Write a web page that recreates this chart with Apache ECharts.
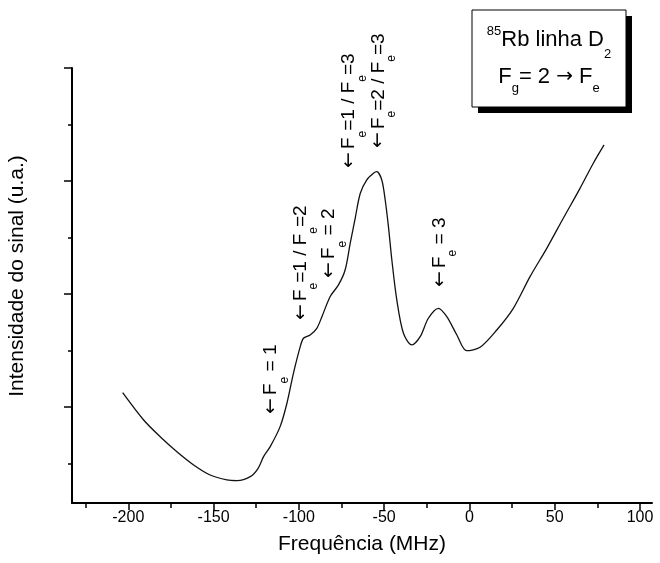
<!DOCTYPE html>
<html><head><meta charset="utf-8">
<script src="https://cdn.jsdelivr.net/npm/echarts@6/dist/echarts.min.js"></script>
<style>html,body{margin:0;padding:0;background:#fff}#c{width:660px;height:563px}</style>
</head><body><div id="c"></div>
<script>
// ---- data ----
const freq = [-203.3,-191.0,-181.3,-171.5,-161.7,-152.0,-142.2,-136.3,-128.5,-124.0,-120.7,-116.8,-111.0,-107.0,-103.2,-99.2,-97.3,-93.4,-89.5,-86.5,-81.7,-76.8,-72.9,-69.9,-67.0,-64.0,-60.2,-56.3,-54.3,-51.4,-49.4,-47.5,-45.5,-42.6,-38.7,-33.8,-28.9,-24.1,-18.2,-13.3,-7.4,-1.6,6.2,16.0,25.7,35.5,45.3,55.0,64.8,72.6,78.9];
const signal = [1.127,0.885,0.737,0.604,0.487,0.398,0.354,0.348,0.383,0.455,0.560,0.649,0.826,1.033,1.298,1.534,1.608,1.637,1.696,1.799,1.976,2.080,2.212,2.449,2.670,2.891,3.009,3.068,3.082,3.009,2.832,2.596,2.301,1.947,1.652,1.549,1.622,1.785,1.873,1.799,1.637,1.498,1.528,1.681,1.873,2.153,2.404,2.670,2.935,3.157,3.319];
const xMajorTicks = [-200,-150,-100,-50,0,50,100];
const xMinorTicks = [-225,-175,-125,-75,-25,25,75];
const yMajorTicks = [1,2,3,4];
const yMinorTicks = [0.5,1.5,2.5,3.5];
const annFreq = [-116.2,-98.7,-82.2,-70.5,-53.3,-17.2];
const annSignal = [0.938,1.770,2.142,3.115,3.292,2.062];
// arrow, then alternating normal / subscript parts
const annLabels = [
  ['F','e',' = 1'],
  ['F','e','=1 / F','e','=2'],
  ['F','e',' = 2'],
  ['F','e','=1 / F','e','=3'],
  ['F','e','=2 / F','e','=3'],
  ['F','e',' = 3']
];
const xTitle = 'Frequência (MHz)';
const yTitle = 'Intensidade do sinal (u.a.)';

const FONT = '"Liberation Sans", Arial, Helvetica, sans-serif';
const ARROW_FONT = '"DejaVu Sans", sans-serif';
const X_MIN = -233, X_MAX = 107, Y_MIN = 0.15, Y_MAX = 4;

const chart = echarts.init(document.getElementById('c'), null, {renderer: 'canvas'});

function baseX(extra) {
  return Object.assign({
    type: 'value', min: X_MIN, max: X_MAX, position: 'bottom', offset: 0,
    splitLine: {show: false}
  }, extra);
}
function baseY(extra) {
  return Object.assign({
    type: 'value', min: Y_MIN, max: Y_MAX, position: 'left', offset: 0,
    splitLine: {show: false}
  }, extra);
}

chart.setOption({
  animation: false,
  backgroundColor: '#fff',
  grid: {left: 72, right: 8, top: 68, bottom: 60, containLabel: false},
  xAxis: [
    baseX({
      axisLine: {show: true, onZero: false, lineStyle: {color: '#000', width: 2}},
      axisTick: {show: true, customValues: xMajorTicks, length: 7, lineStyle: {color: '#000', width: 1.5}},
      axisLabel: {show: true, customValues: xMajorTicks, color: '#000', fontSize: 16, fontFamily: FONT, margin: 7},
      name: xTitle, nameLocation: 'middle', nameGap: 31,
      nameTextStyle: {color: '#000', fontSize: 21, fontFamily: FONT}
    }),
    baseX({
      axisLine: {show: false, onZero: false},
      axisTick: {show: true, customValues: xMinorTicks, length: 5, lineStyle: {color: '#000', width: 1.5}},
      axisLabel: {show: false}
    })
  ],
  yAxis: [
    baseY({
      axisLine: {show: true, onZero: false, lineStyle: {color: '#000', width: 2}},
      axisTick: {show: true, customValues: yMajorTicks, length: 8, lineStyle: {color: '#000', width: 1.5}},
      axisLabel: {show: false}
    }),
    baseY({
      axisLine: {show: false, onZero: false},
      axisTick: {show: true, customValues: yMinorTicks, length: 4, lineStyle: {color: '#000', width: 1.5}},
      axisLabel: {show: false}
    })
  ],
  series: [{
    type: 'line',
    xAxisIndex: 0, yAxisIndex: 0,
    data: freq.map((f, i) => [f, signal[i]]),
    symbol: 'none', showSymbol: false,
    smooth: 0.3,
    lineStyle: {color: '#111', width: 1.3},
    z: 3
  }]
});

// ---- annotations and text box ----
const rich = {
  a: {fontSize: 19, fontFamily: ARROW_FONT, fill: '#000', padding: [0, 3, 0, 0]},
  n: {fontSize: 19, fontFamily: FONT, fill: '#000'},
  s: {fontSize: 12, fontFamily: FONT, fill: '#000', padding: [26, 0, 0, 0]}
};
function buildRich(parts) {
  return '{a|\u2190}' + parts.map((p, i) => (i % 2 === 0 ? '{n|' : '{s|') + p + '}').join('');
}
const graphics = [];
annLabels.forEach((parts, i) => {
  const pt = chart.convertToPixel({gridIndex: 0}, [annFreq[i], annSignal[i]]);
  graphics.push({
    type: 'text', x: pt[0], y: pt[1], rotation: Math.PI / 2, z: 10,
    style: {text: buildRich(parts), rich: rich, align: 'left', verticalAlign: 'middle', fill: '#000'}
  });
});
// y-axis title
graphics.push({
  type: 'text', x: 17, y: 276, rotation: Math.PI / 2, z: 10,
  style: {text: yTitle, fontSize: 21, fontFamily: FONT, fill: '#000', align: 'center', verticalAlign: 'middle'}
});
// text box with shadow
graphics.push({type: 'rect', shape: {x: 478, y: 16, width: 154, height: 97}, style: {fill: '#000'}, z: 20});
graphics.push({type: 'rect', shape: {x: 472, y: 10, width: 154, height: 97}, style: {fill: '#fff', stroke: '#000', lineWidth: 1}, z: 21});
graphics.push({
  type: 'text', x: 549, y: 40, z: 22,
  style: {
    text: '{sup|85}{m|Rb linha D}{sub|2}',
    rich: {
      m: {fontSize: 22, fontFamily: FONT, fill: '#000'},
      sup: {fontSize: 13, fontFamily: FONT, fill: '#000', verticalAlign: 'top', padding: [5, 0, 0, 0]},
      sub: {fontSize: 13, fontFamily: FONT, fill: '#000', padding: [28, 0, 0, 0]}
    },
    align: 'center', verticalAlign: 'middle', fill: '#000'
  }
});
graphics.push({
  type: 'text', x: 549, y: 77, z: 22,
  style: {
    text: '{m|F}{sub|g}{m|= 2 }{ar|\u2192}{m| F}{sub|e}',
    rich: {
      m: {fontSize: 22, fontFamily: FONT, fill: '#000'},
      ar: {fontSize: 20, fontFamily: ARROW_FONT, fill: '#000'},
      sub: {fontSize: 13, fontFamily: FONT, fill: '#000', padding: [22, 0, 0, 0]}
    },
    align: 'center', verticalAlign: 'middle', fill: '#000'
  }
});
chart.setOption({graphic: graphics});
</script>
</body></html>
